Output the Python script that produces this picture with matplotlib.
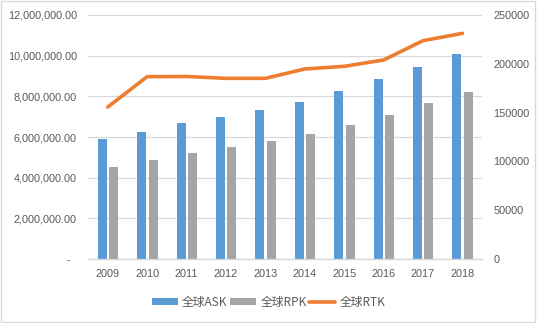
import matplotlib.pyplot as plt
import numpy as np
from matplotlib.patches import Rectangle

plt.rcParams['font.family'] = ['Liberation Sans', 'Noto Sans CJK SC', 'DejaVu Sans']

# 数据
years = ['2009', '2010', '2011', '2012', '2013', '2014', '2015', '2016', '2017', '2018']
ask = [5.90e6, 6.24e6, 6.68e6, 6.98e6, 7.32e6, 7.72e6, 8.26e6, 8.85e6, 9.43e6, 10.07e6]
rpk = [4.54e6, 4.87e6, 5.21e6, 5.52e6, 5.80e6, 6.14e6, 6.58e6, 7.08e6, 7.67e6, 8.21e6]
rtk = [155700, 186800, 187000, 185100, 185100, 194700, 197400, 203900, 223700, 231200]

left_ticks = [0, 2e6, 4e6, 6e6, 8e6, 10e6, 12e6]
right_ticks = [0, 50000, 100000, 150000, 200000, 250000]

txt = '#595959'
grid = '#d9d9d9'

fig = plt.figure(figsize=(5.37, 3.23), dpi=100)
ax = fig.add_axes([0.1639, 0.198, 0.734, 0.7556])
ax2 = ax.twinx()

x = np.arange(len(years))
w = 0.23
b1 = ax.bar(x - 0.14, ask, width=w, color='#5B9BD5', label='全球ASK', zorder=3)
b2 = ax.bar(x + 0.15, rpk, width=w, color='#A5A5A5', label='全球RPK', zorder=3)
l1, = ax2.plot(x, rtk, color='#ED7D31', lw=2.6, label='全球RTK', solid_capstyle='round')

ax.set_xlim(-0.5, len(years) - 0.5)
ax.set_ylim(0, 12e6)
ax2.set_ylim(0, 250000)

ax.set_yticks(left_ticks)
ax.set_yticklabels(['-  '] + ['{:,.2f}'.format(v) for v in left_ticks[1:]])
ax2.set_yticks(right_ticks)
ax2.set_yticklabels([str(v) for v in right_ticks])
ax.set_xticks(x)
ax.set_xticklabels(years)

ax.grid(axis='y', color=grid, lw=0.9, zorder=0)
ax.set_axisbelow(True)
for a in (ax, ax2):
    for s in ('top', 'left', 'right'):
        a.spines[s].set_visible(False)
    a.spines['bottom'].set_color(grid)
    a.spines['bottom'].set_linewidth(0.9)
    a.tick_params(length=0, labelsize=7.8, labelcolor=txt)
ax.tick_params(axis='y', pad=8)
ax.tick_params(axis='x', pad=7)
ax2.tick_params(axis='y', pad=8)

fig.legend([b1, b2, l1], ['全球ASK', '全球RPK', '全球RTK'], loc='center',
           bbox_to_anchor=(0.5, 0.065), ncol=3, frameon=False,
           prop={'family': ['Noto Sans CJK SC'], 'size': 8.5},
           labelcolor=txt, handlelength=2.2, handleheight=0.55,
           handletextpad=0.35, columnspacing=0.25)

fig.patches.append(Rectangle((0.002, 0.003), 0.995, 0.993, transform=fig.transFigure,
                             fill=False, edgecolor=grid, lw=1))

fig.savefig('out.png', dpi=100)
